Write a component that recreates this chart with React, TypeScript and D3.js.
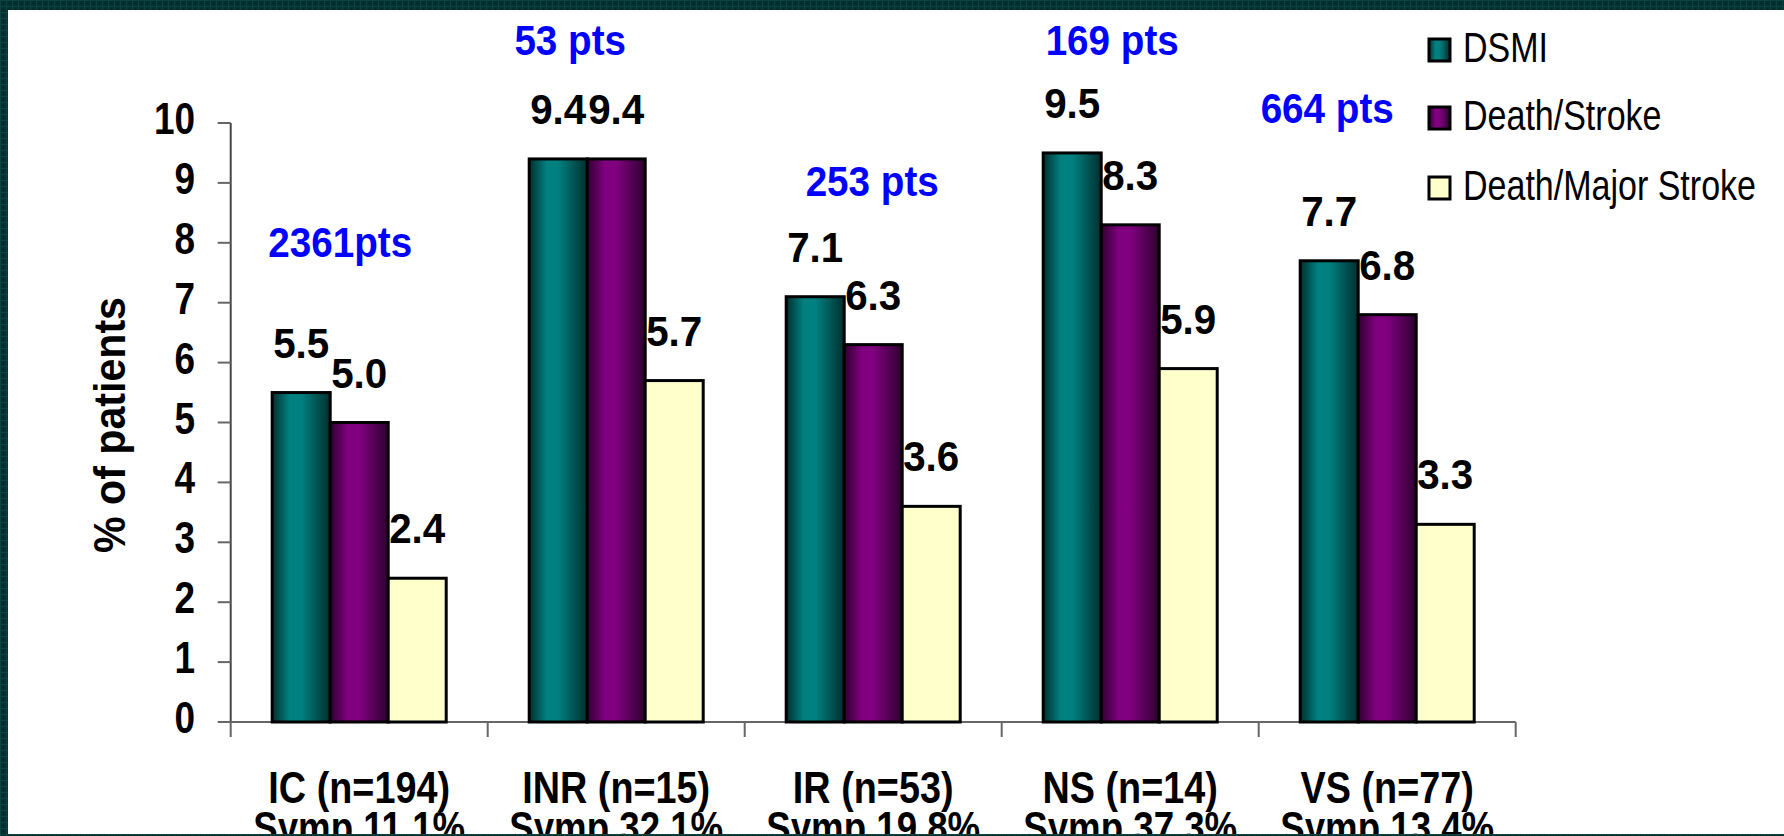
import React from "react";
import * as d3 from "d3";

// Outcome rates (% of patients) by plaque category
const categories = ["IC (n=194)", "INR (n=15)", "IR (n=53)", "NS (n=14)", "VS (n=77)"];
const sympLabels = ["Symp 11.1%", "Symp 32.1%", "Symp 19.8%", "Symp 37.3%", "Symp 13.4%"];
const seriesNames = ["DSMI", "Death/Stroke", "Death/Major Stroke"];
const dsmi = [5.5, 9.4, 7.1, 9.5, 7.7];
const deathStroke = [5.0, 9.4, 6.3, 8.3, 6.8];
const deathMajorStroke = [2.4, 5.7, 3.6, 5.9, 3.3];
const ptsLabels = ["2361pts", "53 pts", "253 pts", "169 pts", "664 pts"];
const yTicks = [0, 1, 2, 3, 4, 5, 6, 7, 8, 9, 10];

const W = 1784;
const H = 836;
const FONT = "'Liberation Sans', Arial, Helvetica, sans-serif";

const seriesValues = [dsmi, deathStroke, deathMajorStroke];
const seriesStyle = [
  { base: "#008080", dark: "#002f2f", id: "gTeal" },
  { base: "#800080", dark: "#2e002e", id: "gPurple" },
  { base: "#FFFFCC", dark: "#FFFFCC", id: "gYellow" },
];

// Where each "pts" annotation sits: x offset from the category centre (px), y in data units
const ptsPlacement = [
  { dx: -19, v: 7.77 },
  { dx: -46, v: 11.13 },
  { dx: -1, v: 8.78 },
  { dx: -18, v: 11.13 },
  { dx: -60, v: 10.0 },
];

const fmt = d3.format(".1f");

export default function App() {
  const axisX = 230.7;
  const catW = 257;
  const x = d3
    .scaleBand<string>()
    .domain(categories)
    .range([axisX, axisX + catW * categories.length])
    .paddingInner(0)
    .paddingOuter(0);
  const xs = d3
    .scaleBand<string>()
    .domain(seriesNames)
    .range([0, x.bandwidth()])
    .paddingInner(0)
    .paddingOuter(0.7155);
  const y = d3.scaleLinear().domain([0, 10]).range([722, 123]);

  const boundaries = d3.range(categories.length + 1).map((i) => axisX + i * x.step());

  return (
    <svg
      width={W}
      height={H}
      viewBox={`0 0 ${W} ${H}`}
      style={{ position: "absolute", left: 0, top: 0, display: "block" }}
    >
      <defs>
        {seriesStyle.map((s) => (
          <linearGradient key={s.id} id={s.id} x1="0" x2="1" y1="0" y2="0">
            <stop offset="0" stopColor={s.dark} />
            <stop offset="0.3" stopColor={s.base} />
            <stop offset="0.5" stopColor={s.base} />
            <stop offset="1" stopColor={s.dark} />
          </linearGradient>
        ))}
        <pattern id="frameTex" width="6" height="6" patternUnits="userSpaceOnUse">
          <rect width="6" height="6" fill="#04302f" />
          <rect x="0" y="0" width="6" height="1" fill="#0c4242" />
          <rect x="0" y="0" width="1" height="6" fill="#0c4242" />
          <rect x="3" y="3" width="1" height="1" fill="#02211f" />
        </pattern>
      </defs>

      <rect x={0} y={0} width={W} height={H} fill="#ffffff" />

      {/* y axis */}
      <line x1={axisX} x2={axisX} y1={y(10)} y2={y(0)} stroke="#444" strokeWidth={2} />
      {yTicks.map((t) => (
        <g key={t}>
          <line x1={axisX - 13} x2={axisX} y1={y(t)} y2={y(t)} stroke="#666" strokeWidth={2} />
          <text
            transform={`translate(195,${y(t) + 11}) scale(0.84,1)`}
            textAnchor="end"
            fontFamily={FONT}
            fontWeight="bold"
            fontSize={44}
            fill="#000"
          >
            {t}
          </text>
        </g>
      ))}
      <text
        transform={`translate(125,425) rotate(-90) scale(0.935,1)`}
        textAnchor="middle"
        fontFamily={FONT}
        fontWeight="bold"
        fontSize={44}
        fill="#000"
      >
        % of patients
      </text>

      {/* x axis */}
      <line
        x1={axisX}
        x2={boundaries[boundaries.length - 1]}
        y1={y(0)}
        y2={y(0)}
        stroke="#666"
        strokeWidth={2}
      />
      {boundaries.map((bx, i) => (
        <line key={i} x1={bx} x2={bx} y1={y(0)} y2={y(0) + 15} stroke="#666" strokeWidth={2} />
      ))}

      {/* bars */}
      {categories.map((c, ci) => (
        <g key={c} transform={`translate(${x(c)},0)`}>
          {seriesNames.map((s, si) => {
            const v = seriesValues[si][ci];
            const bx = xs(s) as number;
            return (
              <rect
                key={s}
                x={bx}
                y={y(v)}
                width={xs.bandwidth()}
                height={y(0) - y(v)}
                fill={`url(#${seriesStyle[si].id})`}
                stroke="#000"
                strokeWidth={3}
              />
            );
          })}
          {seriesNames.map((s, si) => {
            const v = seriesValues[si][ci];
            const cx = (xs(s) as number) + xs.bandwidth() / 2;
            return (
              <text
                key={s + "-lab"}
                transform={`translate(${cx},${y(v) - 35}) scale(0.96,1)`}
                textAnchor="middle"
                fontFamily={FONT}
                fontWeight="bold"
                fontSize={42}
                fill="#000"
              >
                {fmt(v)}
              </text>
            );
          })}
        </g>
      ))}

      {/* "pts" annotations */}
      {categories.map((c, ci) => {
        const cx = (x(c) as number) + x.bandwidth() / 2 + ptsPlacement[ci].dx;
        return (
          <text
            key={c + "-pts"}
            transform={`translate(${cx},${y(ptsPlacement[ci].v)}) scale(0.92,1)`}
            textAnchor="middle"
            fontFamily={FONT}
            fontWeight="bold"
            fontSize={42}
            fill="#0000FF"
          >
            {ptsLabels[ci]}
          </text>
        );
      })}

      {/* category labels */}
      {categories.map((c, ci) => {
        const cx = (x(c) as number) + x.bandwidth() / 2;
        return (
          <g key={c + "-cat"}>
            <text
              transform={`translate(${cx},803) scale(0.84,1)`}
              textAnchor="middle"
              fontFamily={FONT}
              fontWeight="bold"
              fontSize={45}
              fill="#000"
            >
              {c}
            </text>
            <text
              transform={`translate(${cx},843) scale(0.815,1)`}
              textAnchor="middle"
              fontFamily={FONT}
              fontWeight="bold"
              fontSize={45}
              fill="#000"
            >
              {sympLabels[ci]}
            </text>
          </g>
        );
      })}

      {/* legend */}
      {seriesNames.map((s, si) => {
        const baseY = [62, 130, 200][si];
        return (
          <g key={s + "-leg"}>
            <rect
              x={1429}
              y={baseY - 23}
              width={21}
              height={22}
              fill={`url(#${seriesStyle[si].id})`}
              stroke="#000"
              strokeWidth={3}
            />
            <text
              transform={`translate(1463,${baseY}) scale(0.81,1)`}
              fontFamily={FONT}
              fontSize={42}
              fill="#000"
            >
              {s}
            </text>
          </g>
        );
      })}

      {/* slide frame */}
      <rect x={0} y={0} width={W} height={10} fill="url(#frameTex)" />
      <rect x={0} y={0} width={8} height={H} fill="url(#frameTex)" />
      <rect x={0} y={834} width={W} height={2} fill="url(#frameTex)" />
    </svg>
  );
}
